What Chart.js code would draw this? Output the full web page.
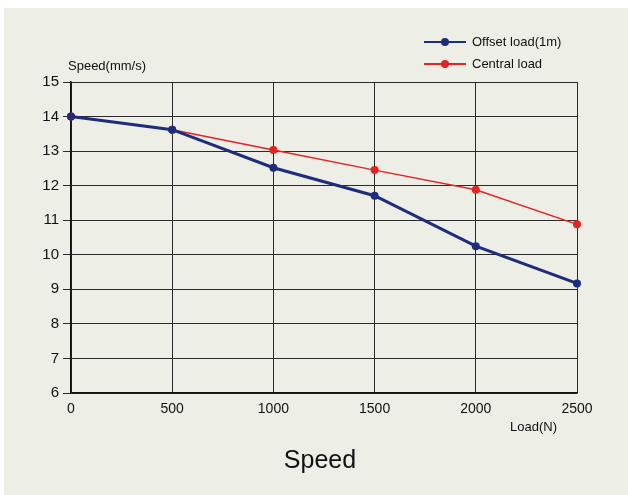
<!DOCTYPE html>
<html><head><meta charset="utf-8">
<script src="https://cdn.jsdelivr.net/npm/chart.js@4/dist/chart.umd.min.js"></script>
<style>html,body{margin:0;padding:0;background:#fff;}#wrap{width:628px;height:495px;}</style>
</head><body><div id="wrap"><canvas id="c" width="628" height="495"></canvas></div>
<script>
const loads = [0, 500, 1000, 1500, 2000, 2500];
const offsetLoad = [14.0, 13.62, 12.52, 11.71, 10.25, 9.17];
const centralLoad = [14.0, 13.62, 13.03, 12.45, 11.88, 10.88];
const seriesNames = ["Offset load(1m)", "Central load"];
const yTicks = [6, 7, 8, 9, 10, 11, 12, 13, 14, 15];
const FONT = "'Liberation Sans', Arial, sans-serif";

const deco = {
  id: 'deco',
  beforeDraw(chart) {
    const ctx = chart.ctx;
    ctx.save();
    ctx.fillStyle = '#ffffff';
    ctx.fillRect(0, 0, chart.width, chart.height);
    ctx.fillStyle = '#EDEEE5';
    ctx.fillRect(4, 8, chart.width - 4, chart.height - 8);
    ctx.restore();
  },
  afterDraw(chart) {
    const ctx = chart.ctx;
    ctx.save();
    ctx.fillStyle = '#111';
    ctx.textBaseline = 'middle';
    ctx.font = '13px ' + FONT;
    ctx.textAlign = 'left';
    ctx.fillText('Speed(mm/s)', 68, 66);
    ctx.fillText('Load(N)', 510, 427);
    ctx.font = '25px ' + FONT;
    ctx.textAlign = 'center';
    ctx.fillText('Speed', 320, 461);
    // legend
    const ds = chart.data.datasets;
    const rows = [42, 64];
    ds.forEach((d, i) => {
      const y = rows[i];
      ctx.strokeStyle = d.borderColor;
      ctx.lineWidth = 2;
      ctx.beginPath(); ctx.moveTo(424, y); ctx.lineTo(466, y); ctx.stroke();
      ctx.fillStyle = d.borderColor;
      ctx.beginPath(); ctx.arc(445, y, 4, 0, Math.PI * 2); ctx.fill();
      ctx.fillStyle = '#111';
      ctx.font = '13px ' + FONT;
      ctx.textAlign = 'left';
      ctx.fillText(d.label, 472, y);
    });
    ctx.restore();
  }
};

new Chart(document.getElementById('c'), {
  type: 'line',
  data: {
    datasets: [
      { label: seriesNames[0], data: loads.map((x, i) => ({x, y: offsetLoad[i]})),
        borderColor: '#1E2C7C', backgroundColor: '#1E2C7C', borderWidth: 3,
        pointRadius: 4, pointBackgroundColor: '#1E2C7C', pointBorderWidth: 0, tension: 0, clip: false },
      { label: seriesNames[1], data: loads.map((x, i) => ({x, y: centralLoad[i]})),
        borderColor: '#E32422', backgroundColor: '#E32422', borderWidth: 1.5,
        pointRadius: 4, pointBackgroundColor: '#E32422', pointBorderWidth: 0, tension: 0, clip: false }
    ]
  },
  options: {
    responsive: false,
    animation: false,
    devicePixelRatio: 1,
    layout: { padding: { left: 0, top: 82, right: 51, bottom: 72 } },
    plugins: { legend: { display: false }, tooltip: { enabled: false } },
    scales: {
      x: {
        type: 'linear', min: 0, max: 2500,
        afterBuildTicks(s) { s.ticks = loads.map(v => ({value: v})); },
        afterFit(s) { s.height = 30; },
        grid: { color: '#2a2a2a', lineWidth: 1, drawTicks: false },
        border: { color: '#111', width: 1.5 },
        ticks: { color: '#111', font: { family: FONT, size: 14 }, padding: 8, maxRotation: 0,
                 callback: v => String(v) }
      },
      y: {
        type: 'linear', min: 6, max: 15,
        afterBuildTicks(s) { s.ticks = yTicks.map(v => ({value: v})); },
        afterFit(s) { s.width = 71; },
        grid: { color: '#2a2a2a', lineWidth: 1, drawTicks: true, tickLength: 8 },
        border: { color: '#111', width: 1.5 },
        ticks: { color: '#111', font: { family: FONT, size: 15 }, padding: 4, callback: v => String(v) }
      }
    }
  },
  plugins: [deco]
});
</script></body></html>
